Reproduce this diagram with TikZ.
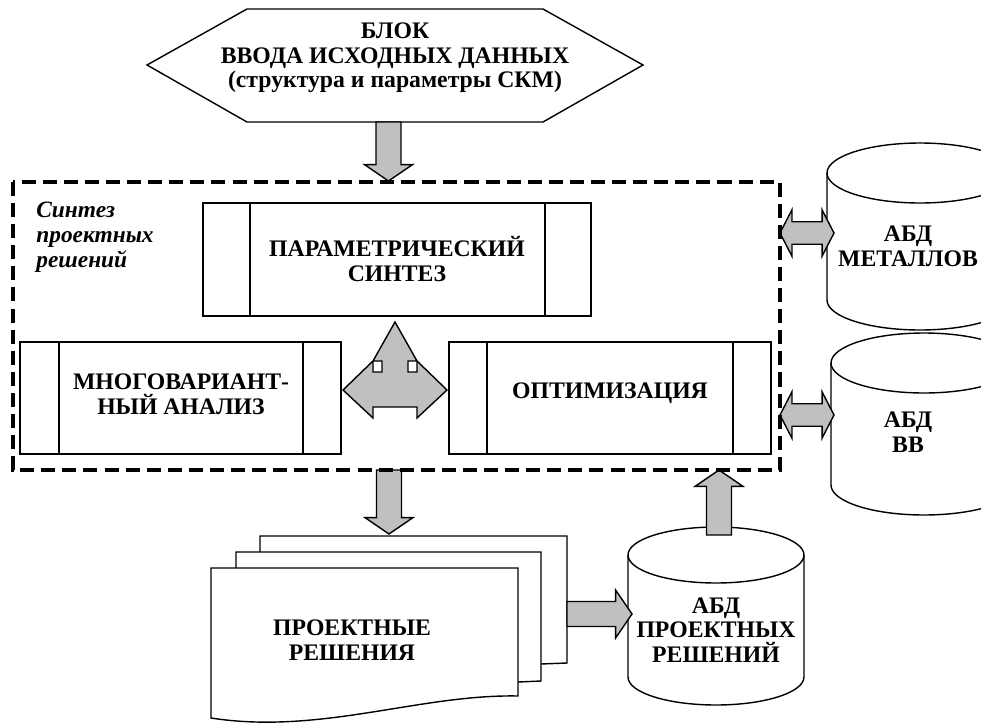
\documentclass[tikz,border=0pt]{standalone}
\usepackage{fontspec}
\setmainfont{Liberation Serif}
\usetikzlibrary{calc,positioning}
\definecolor{arrowgray}{HTML}{C0C0C0}
% block arrow sizes
\def\arsw{7.1pt}\def\arhw{13.6pt}\def\arhl{9.3pt}
\def\dsw{6.4pt}\def\dhw{13.2pt}\def\dhl{6.8pt}
\tikzset{
  line/.style={line width=0.8pt},
  txt/.style={font=\fontsize{13.5}{14}\selectfont\bfseries, align=center},
  itxt/.style={font=\fontsize{13.3}{14.2}\selectfont\bfseries\itshape, align=left},
  blockarrow/.style={draw, fill=arrowgray, line width=0.8pt},
  frame/.style={line width=2.2pt, dash pattern=on 8pt off 4pt},
  vblock/.style={to path={let \p1=(\tikztostart), \p2=(\tikztotarget),
    \n1={\y2-sign(\y2-\y1)*\arhl} in
    (\x1-\arsw,\y1) -- (\x1-\arsw,\n1) -- (\x1-\arhw,\n1) -- (\x1,\y2)
    -- (\x1+\arhw,\n1) -- (\x1+\arsw,\n1) -- (\x1+\arsw,\y1) -- cycle}},
  hblock/.style={to path={let \p1=(\tikztostart), \p2=(\tikztotarget),
    \n1={\x2-sign(\x2-\x1)*\arhl} in
    (\x1,\y1-\arsw) -- (\n1,\y1-\arsw) -- (\n1,\y1-\arhw) -- (\x2,\y1)
    -- (\n1,\y1+\arhw) -- (\n1,\y1+\arsw) -- (\x1,\y1+\arsw) -- cycle}},
  hdouble/.style={to path={let \p1=(\tikztostart), \p2=(\tikztotarget) in
    (\x1,\y1) -- (\x1+\dhl,\y1-\dhw) -- (\x1+\dhl,\y1-\dsw) -- (\x2-\dhl,\y1-\dsw)
    -- (\x2-\dhl,\y1-\dhw) -- (\x2,\y1) -- (\x2-\dhl,\y1+\dhw) -- (\x2-\dhl,\y1+\dsw)
    -- (\x1+\dhl,\y1+\dsw) -- (\x1+\dhl,\y1+\dhw) -- cycle}},
}
\begin{document}
\begin{tikzpicture}[x=0.02cm,y=-0.02cm]
\clip (0,0) rectangle (981,724);
% input block
\draw[line] (147,65) -- (247,9) -- (543,9) -- (643,65) -- (543,122) -- (247,122) -- cycle;
\node[txt] (inp) at (395,58) {БЛОК\\ВВОДА ИСХОДНЫХ ДАННЫХ\\(структура и параметры СКМ)};
% process boxes
\draw[line] (203,203) rectangle (591,316) (250,203) -- (250,316) (545,203) -- (545,316);
\node[txt] (par) at (397,259) {ПАРАМЕТРИЧЕСКИЙ\\СИНТЕЗ};
\draw[line] (20,342) rectangle (341,454) (59,342) -- (59,454) (303,342) -- (303,454);
\node[txt] (multi) at (181,394) {МНОГОВАРИАНТ-\\НЫЙ АНАЛИЗ};
\draw[line] (449,342) rectangle (771,454) (487,342) -- (487,454) (733,342) -- (733,454);
\node[txt] (opt) at (610,393) {ОПТИМИЗАЦИЯ};
% data bases
\draw[line] (827,173) -- (827,300) arc[start angle=180, end angle=360, x radius=1.86cm, y radius=0.6cm] -- (1013,173);
\draw[line] (920,173) ellipse [x radius=1.86cm, y radius=0.6cm];
\node[txt] (met) at (908,246) {АБД\\МЕТАЛЛОВ};
\draw[line] (831,363) -- (831,485) arc[start angle=180, end angle=360, x radius=1.86cm, y radius=0.6cm] -- (1017,363);
\draw[line] (924,363) ellipse [x radius=1.86cm, y radius=0.6cm];
\node[txt] (vv) at (908,432) {АБД\\ВВ};
\draw[line] (628,555) -- (628,677) arc[start angle=180, end angle=360, x radius=1.76cm, y radius=0.56cm] -- (804,555);
\draw[line] (716,555) ellipse [x radius=1.76cm, y radius=0.56cm];
\node[txt] (prdb) at (716,630) {АБД\\ПРОЕКТНЫХ\\РЕШЕНИЙ};
% documents
\draw[line, fill=white] (260,536) -- (567,536) -- (567,663) -- (541,664) -- (260,668) -- cycle;
\draw[line, fill=white] (236,552) -- (541,552) -- (541,681) -- (518,682) -- (236,690) -- cycle;
\draw[line, fill=white] (211,568) -- (518,568) -- (518,696) .. controls (420,694) and (320,735) .. (211,718) -- cycle;
\node[txt] (doc) at (352,640) {ПРОЕКТНЫЕ\\РЕШЕНИЯ};
% arrows
\coordinate (inp-out) at (388.5,122);
\coordinate (syn-in) at (388.5,181);
\coordinate (syn-out) at (389,470);
\coordinate (doc-in) at (389,534);
\coordinate (doc-out) at (567,614);
\coordinate (prdb-in) at (632,614);
\coordinate (prdb-out) at (719,535);
\coordinate (syn-back) at (719,470);
\coordinate (met-l) at (780,233);
\coordinate (met-r) at (834,233);
\coordinate (vv-l) at (780,415);
\coordinate (vv-r) at (834,415);
\draw[blockarrow] (inp-out) to[vblock] (syn-in);
\draw[blockarrow] (syn-out) to[vblock] (doc-in);
\draw[blockarrow] (doc-out) to[hblock] (prdb-in);
\draw[blockarrow] (prdb-out) to[vblock] (syn-back);
\draw[blockarrow] (met-l) to[hdouble] (met-r);
\draw[blockarrow] (vv-l) to[hdouble] (vv-r);
\draw[blockarrow] (395,322) -- (373,361) -- (382,361) -- (382,372) -- (373,372) -- (373,361)
  -- (343,390) -- (373,418) -- (373,407) -- (417,407) -- (417,418) -- (447,390)
  -- (417,361) -- (417,372) -- (408,372) -- (408,361) -- (417,361) -- cycle;
% synthesis frame
\draw[frame] (13,182) rectangle (780,470);
\node[itxt, anchor=north west, inner sep=0pt] (syn) at (36,202) {Синтез\\проектных\\решений};
\end{tikzpicture}
\end{document}
